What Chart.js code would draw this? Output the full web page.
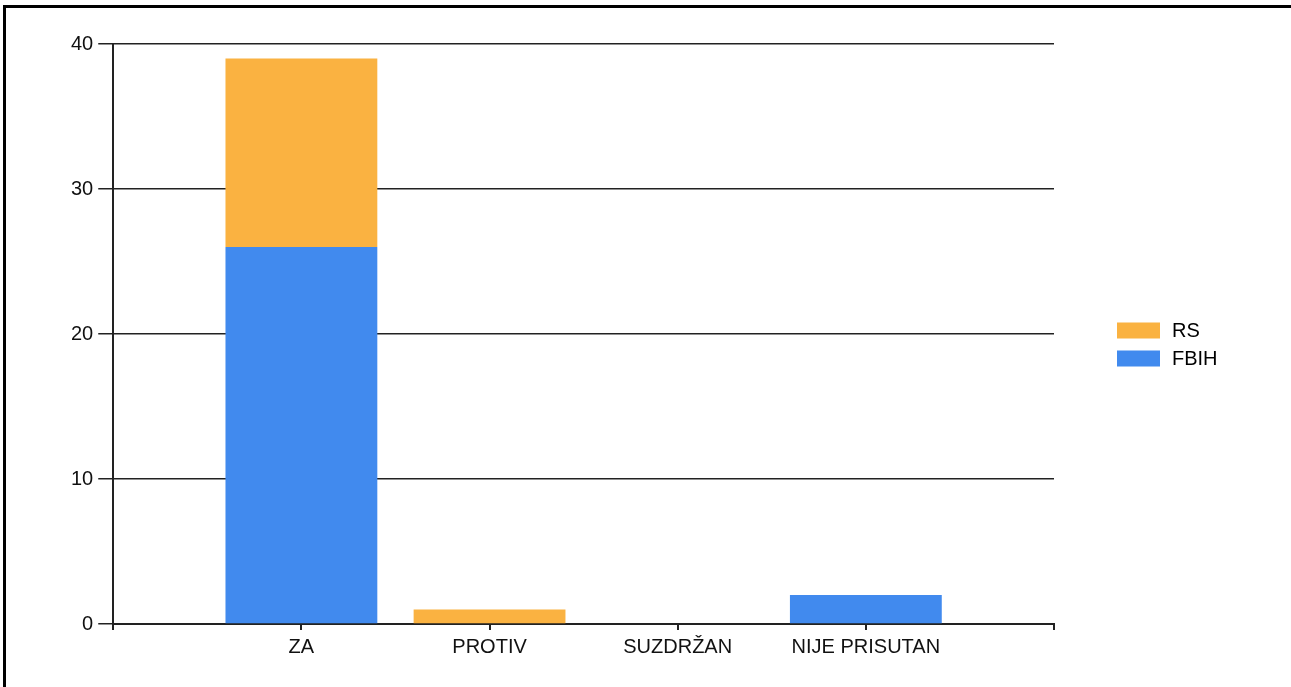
<!DOCTYPE html>
<html>
<head>
<meta charset="utf-8">
<script src="https://cdn.jsdelivr.net/npm/chart.js@4"></script>
<style>
  html, body { margin: 0; padding: 0; background: #fff; overflow: hidden; }
  .frame { position: absolute; left: 3px; top: 5px; width: 1320px; height: 720px;
           border-left: 3px solid #000; border-top: 3px solid #000; }
  .wrap { position: absolute; left: 0; top: 0; width: 1291px; height: 687px; }
</style>
</head>
<body>
<div class="frame"></div>
<div class="wrap"><canvas id="chart"></canvas></div>
<script>
// ── Data ────────────────────────────────────────────────────────────
const categories = ['', 'ZA', 'PROTIV', 'SUZDRŽAN', 'NIJE PRISUTAN', ''];
const fbihValues = [null, 26, null, null, 2, null];
const rsValues   = [null, 13, 1, null, null, null];
const yTicks     = [0, 10, 20, 30, 40];

const COLORS = { rs: '#FAB241', fbih: '#418AEE' };
const FONT = { family: '"Liberation Sans", Arial, sans-serif', size: 20 };

// legend drawn on the right, RS above FBIH
const sideLegend = {
  id: 'sideLegend',
  afterDraw(chart) {
    const { ctx, chartArea } = chart;
    const items = [
      { label: 'RS', color: COLORS.rs },
      { label: 'FBIH', color: COLORS.fbih },
    ];
    const x = chartArea.right + 63;
    const mid = (chartArea.top + chartArea.bottom) / 2 + 10.5;
    const rowH = 28;
    ctx.save();
    ctx.font = `${FONT.size}px ${FONT.family}`;
    ctx.textBaseline = 'middle';
    items.forEach((it, i) => {
      const cy = mid - rowH / 2 + i * rowH;
      ctx.fillStyle = it.color;
      ctx.fillRect(x, cy - 8, 43, 16);
      ctx.fillStyle = '#000';
      ctx.fillText(it.label, x + 55, cy + 1);
    });
    ctx.restore();
  },
};

new Chart(document.getElementById('chart'), {
  type: 'bar',
  data: {
    labels: categories,
    datasets: [
      { label: 'FBIH', data: fbihValues, backgroundColor: COLORS.fbih, borderWidth: 0 },
      { label: 'RS',   data: rsValues,   backgroundColor: COLORS.rs,   borderWidth: 0 },
    ],
  },
  options: {
    responsive: true,
    maintainAspectRatio: false,
    animation: false,
    layout: { padding: { left: 66, right: 237, top: 44, bottom: 23 } },
    datasets: { bar: { categoryPercentage: 0.807, barPercentage: 1 } },
    plugins: { legend: { display: false }, tooltip: { enabled: false } },
    scales: {
      x: {
        stacked: true,
        offset: false,
        grid: { offset: false, drawOnChartArea: false, color: '#222', lineWidth: 2, tickLength: 6 },
        border: { color: '#222', width: 2 },
        ticks: { color: '#111', font: FONT, padding: 5, maxRotation: 0, autoSkip: false },
      },
      y: {
        stacked: true,
        min: 0,
        max: 40,
        afterBuildTicks: s => { s.ticks = yTicks.map(v => ({ value: v })); },
        grid: { color: '#222', lineWidth: 1.5, tickLength: 15 },
        border: { color: '#222', width: 2 },
        ticks: { color: '#111', font: FONT, padding: 5 },
      },
    },
  },
  plugins: [sideLegend],
});
</script>
</body>
</html>
